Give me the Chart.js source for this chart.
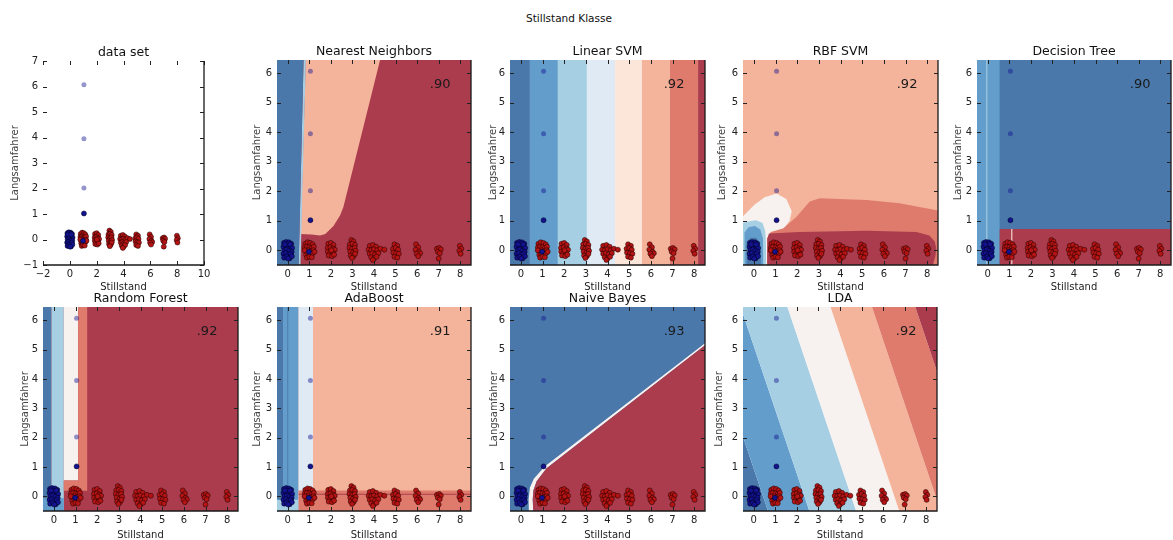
<!DOCTYPE html>
<html>
<head>
<meta charset="utf-8">
<script src="https://cdn.jsdelivr.net/npm/chart.js@4/dist/chart.umd.min.js"></script>
<style>
  html, body { margin: 0; padding: 0; background: #fff; overflow: hidden; width: 1173px; height: 540px; }
  #wrap { position: relative; width: 1173px; height: 540px; }
  #wrap canvas { position: absolute; }
  #sup { position: absolute; top: 12px; left: 0; width: 1138px; text-align: center;
         font: 10.5px 'DejaVu Sans', sans-serif; color: #111; line-height: 12px; }
</style>
</head>
<body>
<div id="wrap"><div id="sup">Stillstand Klasse</div></div>
<script>
// ---------------- data ----------------
const panelTitles = ['data set', 'Nearest Neighbors', 'Linear SVM', 'RBF SVM', 'Decision Tree',
                     'Random Forest', 'AdaBoost', 'Naive Bayes', 'LDA'];
const scores = [null, '.90', '.92', '.92', '.90', '.92', '.91', '.93', '.92'];

const clfXTicks = [0, 1, 2, 3, 4, 5, 6, 7, 8];
const clfYTicks = [0, 1, 2, 3, 4, 5, 6];
const rawXTicks = [-2, 0, 2, 4, 6, 8, 10];
const rawXLabels = ['\u22122', '0', '2', '4', '6', '8', '10'];
const rawYTicks = [-1, 0, 1, 2, 3, 4, 5, 6, 7];
const rawYLabels = ['\u22121', '0', '1', '2', '3', '4', '5', '6', '7'];

// class 0 (blue) training points: cluster at Stillstand 0 plus a few at 1
const blueTrain = [
  [-0.18, 0.25], [-0.08, 0.28], [0.05, 0.27], [0.16, 0.22], [-0.2, 0.12], [-0.07, 0.15], [0.09, 0.12], [0.2, 0.08],
  [-0.16, 0.0], [-0.04, 0.03], [0.07, -0.02], [0.18, -0.05], [-0.2, -0.12], [-0.09, -0.1], [0.03, -0.15], [0.14, -0.12],
  [-0.17, -0.25], [-0.05, -0.22], [0.09, -0.27], [0.19, -0.2], [0.0, 0.2], [-0.13, 0.2], [0.11, 0.2], [0.02, -0.28],
  [0.98, -0.05], [1.05, 1.02]
];
// class 0 test points
const blueTest = [[1.05, 2.02], [1.05, 3.95], [1.05, 6.07]];
// class 1 (red) points, one cluster per Stillstand value 1..8
const redTrain = [
  [0.81, 0.22], [0.92, 0.27], [1.04, 0.25], [1.15, 0.2], [0.79, 0.1], [0.89, 0.12], [1.0, 0.1], [1.11, 0.08], [1.21, 0.12],
  [0.83, -0.02], [0.96, 0.0], [1.07, -0.03], [1.19, 0.0], [0.85, -0.15], [0.95, -0.12], [1.06, -0.14], [1.16, -0.1],
  [0.89, -0.25], [1.0, -0.22], [1.11, -0.24], [0.78, 0.0], [1.24, -0.05],
  [1.88, 0.22], [2.0, 0.25], [2.12, 0.18], [1.85, 0.08], [1.98, 0.1], [2.1, 0.06], [2.18, 0.02], [1.86, -0.05],
  [1.97, -0.08], [2.1, -0.1], [1.9, -0.18], [2.05, -0.2], [2.15, -0.15], [2.02, 0.0],
  [2.95, 0.35], [3.05, 0.3], [2.88, 0.2], [3.0, 0.22], [3.12, 0.18], [2.86, 0.08], [2.98, 0.05], [3.1, 0.08],
  [2.9, -0.05], [3.03, -0.08], [3.15, -0.02], [2.92, -0.18], [3.05, -0.2], [3.12, -0.12], [2.98, -0.26],
  [3.8, 0.15], [3.95, 0.18], [4.1, 0.12], [3.75, 0.02], [3.87, 0.0], [4.0, 0.03], [4.15, 0.0], [4.3, 0.05], [4.48, 0.02],
  [3.8, -0.12], [3.92, -0.1], [4.05, -0.14], [4.2, -0.1], [3.87, -0.24], [4.0, -0.28], [4.12, -0.22], [3.95, -0.33],
  [4.95, 0.2], [5.08, 0.15], [4.88, 0.05], [5.0, 0.08], [5.12, 0.02], [4.9, -0.08], [5.03, -0.1], [5.15, -0.12],
  [4.95, -0.22], [5.08, -0.25],
  [5.95, 0.2], [6.05, 0.1], [5.93, 0.02], [6.08, -0.05], [6.14, -0.1], [5.98, -0.12], [6.05, -0.2],
  [6.92, 0.05], [7.02, 0.08], [7.1, 0.03], [6.96, -0.05], [7.05, -0.1], [7.0, -0.28],
  [7.98, 0.15], [8.05, 0.05], [7.96, -0.02], [8.02, -0.12]
];

// decision regions: [contour level, polygon], listed from bottom layer to top layer
const regionsNN = [
  [8, [[-1, -1], [9, -1], [9, 7], [-1, 7]]],
  [6, [[0.6, 0.55], [0.86, 7], [4.47, 7], [2.58, 1.47], [2.43, 1.19], [2.12, 0.82], [1.74, 0.55], [1.5, 0.5], [1.1, 0.53]]],
  [2, [[0.49, -1], [0.57, -1], [0.86, 7], [0.75, 7]]],
  [0, [[-1, -1], [0.49, -1], [0.75, 7], [-1, 7]]]
];
const svmEdges = [-1, 0.42, 1.71, 3.05, 4.35, 5.59, 6.88, 8.18, 9];
const svmLevels = [0, 1, 2, 3, 5, 6, 7, 8];
const regionsRBF = [
  [6, [[-1, -1], [9, -1], [9, 7], [-1, 7]]],
  [4, [[-1, 1.15], [-0.5, 1.15], [0.04, 1.55], [0.5, 1.8], [1.05, 1.92], [1.5, 1.74], [1.75, 1.32], [1.65, 1.0],
       [1.4, 0.75], [0.9, 0.62], [0.68, 0.4], [0.62, -1], [-1, -1]]],
  [7, [[0.6, -1], [0.62, 0.4], [0.78, 0.62], [1.35, 0.74], [1.96, 1.13], [2.58, 1.65], [3.04, 1.76],
       [5.2, 1.7], [6.73, 1.59], [9, 1.28], [9, -1]]],
  [8, [[0.62, -1], [0.62, 0.4], [0.7, 0.57], [2.1, 0.62], [5.2, 0.66], [7.5, 0.62], [8.1, 0.5], [8.35, 0.3],
       [8.42, 0.05], [8.38, -0.2], [8.3, -0.4], [8.2, -1]]],
  [2, [[-1, -1], [-1, 0.85], [-0.3, 0.97], [0.1, 1.02], [0.4, 0.92], [0.53, 0.65], [0.56, 0.2], [0.57, -1]]],
  [1, [[-0.43, -1], [-0.43, 0.6], [-0.25, 0.78], [0.05, 0.82], [0.3, 0.7], [0.42, 0.4], [0.44, -1]]],
  [0, [[-0.33, -1], [-0.33, 0.3], [-0.15, 0.42], [0.1, 0.42], [0.25, 0.3], [0.32, 0], [0.32, -1]]]
];
const regionsDT = [
  [0, [[-1, -1], [9, -1], [9, 7], [-1, 7]]],
  [1, [[-1, -1], [0.55, -1], [0.55, 7], [-1, 7]]],
  [2, [[-0.07, -1], [-0.02, -1], [-0.02, 7], [-0.07, 7]]],
  [8, [[0.55, -1], [9, -1], [9, 0.72], [0.55, 0.72]]],
  [5, [[1.09, -1], [1.14, -1], [1.14, 0.72], [1.09, 0.72]]]
];
const regionsRF = [
  [8, [[-1, -1], [9, -1], [9, 7], [-1, 7]]],
  [0, [[-1, -1], [-0.11, -1], [-0.11, 7], [-1, 7]]],
  [2, [[-0.11, -1], [0.46, -1], [0.46, 7], [-0.11, 7]]],
  [1, [[-1, -1], [0.46, -1], [0.46, -0.06], [-1, -0.06]]],
  [4, [[0.46, 0.54], [1.12, 0.54], [1.12, 7], [0.46, 7]]],
  [7, [[0.46, 0.19], [1.12, 0.19], [1.12, 0.54], [0.46, 0.54]]],
  [7, [[1.12, 0.19], [1.54, 0.19], [1.54, 7], [1.12, 7]]]
];
const regionsAda = [
  [6, [[-1, -1], [9, -1], [9, 7], [-1, 7]]],
  [0, [[-1, -1], [-0.22, -1], [-0.22, 7], [-1, 7]]],
  [1, [[-0.22, -1], [0.5, -1], [0.5, 7], [-0.22, 7]]],
  [0, [[-0.02, -1], [0.02, -1], [0.02, 7], [-0.02, 7]]],
  [3, [[0.5, -1], [1.17, -1], [1.17, 7], [0.5, 7]]],
  [2, [[-1, -1], [0.5, -1], [0.5, -0.12], [-1, -0.12]]],
  [7, [[0.5, -1], [9, -1], [9, 0.2], [0.5, 0.2]]],
  [8, [[0.5, 0.05], [9, 0.05], [9, 0.09], [0.5, 0.09]]]
];
const regionsNB = [
  [0, [[-1, -1], [9, -1], [9, 7], [-1, 7]]],
  [4, [[0.38, -1], [0.36, -0.1], [0.42, 0.3], [0.6, 0.6], [1.1, 1.02], [9, 5.5], [9, 5.43], [1.19, 0.96],
       [0.73, 0.51], [0.58, 0.2], [0.55, -0.1], [0.6, -1]]],
  [8, [[0.6, -1], [0.55, -0.1], [0.58, 0.2], [0.73, 0.51], [1.19, 0.96], [9, 5.43], [9, -1]]]
];
// LDA boundaries: x where each level line meets Langsamfahrer = -1 and = 7
const ldaBottom = [-5, 0.89, 2.81, 4.98, 6.98, 8.9, 10.91, 15];
const ldaTop = [-5, -2.78, -0.86, 1.31, 3.31, 5.23, 7.24, 15];
const ldaLevels = [0, 1, 2, 4, 6, 7, 8];

// ---------------- styling ----------------
const levelColors = ['#4a78ab', '#629dcc', '#a7cfe4', '#dfeaf4', '#f7f1ef', '#fce5d9', '#f4b49b', '#df7b6d', '#aa3c4d'];
const FONT = "'DejaVu Sans', sans-serif";
Chart.defaults.font.family = FONT;

const regionsSVM = svmLevels.map((lv, i) => [lv, [[svmEdges[i], -1], [svmEdges[i + 1], -1], [svmEdges[i + 1], 7], [svmEdges[i], 7]]]);
const regionsLDA = ldaLevels.map((lv, i) => [lv, [[ldaBottom[i], -1], [ldaBottom[i + 1], -1], [ldaTop[i + 1], 7], [ldaTop[i], 7]]]);
const panelRegions = [null, regionsNN, regionsSVM, regionsRBF, regionsDT, regionsRF, regionsAda, regionsNB, regionsLDA];

// axes box of each panel on the page (left, top, width, height) and room for the axis texts
const boxes = [
  {L: 43, T: 61, W: 161, H: 204, yW: 34, xH: 28},
  {L: 277, T: 60, W: 194, H: 205, yW: 26, xH: 28},
  {L: 510, T: 60, W: 195, H: 205, yW: 23, xH: 28},
  {L: 743, T: 60, W: 195, H: 205, yW: 27, xH: 28},
  {L: 977, T: 60, W: 194, H: 205, yW: 25, xH: 28},
  {L: 43, T: 307, W: 195, H: 204, yW: 24, xH: 30},
  {L: 277, T: 307, W: 194, H: 204, yW: 26, xH: 30},
  {L: 510, T: 307, W: 195, H: 204, yW: 22, xH: 30},
  {L: 743, T: 307, W: 194, H: 204, yW: 30, xH: 30}
];
const TITLE_H = 18;   // 2 + 15 + 1
const PAD_R = 10;

const toXY = arr => arr.map(([x, y]) => ({x, y}));

// inward tick marks, right/bottom spines and the score label
const framePlugin = {
  id: 'frame',
  afterDraw(chart, args, opts) {
    const {ctx, chartArea: a, scales: {x, y}} = chart;
    ctx.save();
    ctx.strokeStyle = '#222';
    ctx.lineWidth = 1;
    ctx.beginPath();
    x.ticks.forEach(t => {
      const px = Math.round(x.getPixelForValue(t.value)) + 0.5;
      ctx.moveTo(px, a.bottom); ctx.lineTo(px, a.bottom - 4);
      ctx.moveTo(px, a.top); ctx.lineTo(px, a.top + 4);
    });
    y.ticks.forEach(t => {
      const py = Math.round(y.getPixelForValue(t.value)) + 0.5;
      ctx.moveTo(a.left, py); ctx.lineTo(a.left + 4, py);
      ctx.moveTo(a.right, py); ctx.lineTo(a.right - 4, py);
    });
    ctx.stroke();
    ctx.strokeStyle = '#1a1a1a';
    ctx.lineWidth = 1.3;
    ctx.beginPath();
    ctx.moveTo(a.left, a.bottom); ctx.lineTo(a.right, a.bottom); ctx.lineTo(a.right, a.top);
    ctx.stroke();
    if (opts.score) {
      ctx.font = '13px ' + FONT;
      ctx.fillStyle = '#1a1a1a';
      ctx.textAlign = 'right';
      ctx.textBaseline = 'middle';
      ctx.fillText(opts.score, x.getPixelForValue(7.55), y.getPixelForValue(5.6));
    }
    ctx.restore();
  }
};
Chart.register(framePlugin);

function makePanel(i) {
  const b = boxes[i];
  const raw = i === 0;
  const canvas = document.createElement('canvas');
  const cw = b.yW + b.W + PAD_R;
  const ch = TITLE_H + b.H + b.xH;
  canvas.width = cw; canvas.height = ch;
  canvas.style.width = cw + 'px'; canvas.style.height = ch + 'px';
  canvas.style.left = (b.L - b.yW) + 'px';
  canvas.style.top = (b.T - TITLE_H) + 'px';
  document.getElementById('wrap').appendChild(canvas);

  const datasets = [];
  const regions = panelRegions[i] || [];
  regions.forEach(([lv, poly], k) => {
    datasets.push({
      type: 'line', data: toXY(poly), fill: 'shape', backgroundColor: levelColors[lv],
      borderWidth: 0, borderColor: 'rgba(0,0,0,0)', pointRadius: 0, pointHitRadius: 0,
      tension: 0, order: 1000 - k
    });
  });
  const r = 2.5;
  datasets.push({data: toXY(redTrain), backgroundColor: '#b51414', borderColor: '#1a0000', borderWidth: 0.5, pointRadius: r, order: 3});
  datasets.push({data: toXY(blueTrain), backgroundColor: '#13138f', borderColor: '#00001a', borderWidth: 0.5, pointRadius: r, order: 2});
  datasets.push({data: toXY(blueTest), backgroundColor: 'rgba(19,19,143,0.45)', borderColor: 'rgba(0,0,0,0)', borderWidth: 0, pointRadius: r, order: 1});

  const xT = raw ? rawXTicks : clfXTicks;
  const yT = raw ? rawYTicks : clfYTicks;
  const xL = raw ? rawXLabels : clfXTicks.map(String);
  const yL = raw ? rawYLabels : clfYTicks.map(String);

  new Chart(canvas, {
    type: 'scatter',
    data: {datasets},
    options: {
      responsive: false,
      animation: false,
      events: [],
      layout: {padding: {left: 0, top: 0, right: PAD_R, bottom: 0}},
      plugins: {
        legend: {display: false},
        tooltip: {enabled: false},
        title: {display: true, text: panelTitles[i], fullSize: false, color: '#111',
                font: {size: 12.5, weight: 'normal'}, padding: {top: 2, bottom: 1}},
        frame: {score: scores[i]}
      },
      scales: {
        x: {
          type: 'linear',
          min: raw ? -2 : -0.5, max: raw ? 10 : 8.5,
          afterBuildTicks: s => { s.ticks = xT.map(v => ({value: v})); },
          afterFit: s => { s.height = b.xH; },
          grid: {display: false, drawTicks: false},
          border: {display: false},
          ticks: {padding: 3, color: '#222', font: {size: 10}, autoSkip: false, maxRotation: 0,
                  callback: (v, idx) => xL[idx]},
          title: {display: true, text: 'Stillstand', color: '#222', font: {size: 10}, padding: 0}
        },
        y: {
          type: 'linear',
          min: raw ? -1 : -0.5, max: raw ? 7 : 6.45,
          afterBuildTicks: s => { s.ticks = yT.map(v => ({value: v})); },
          afterFit: s => { s.width = b.yW; },
          grid: {display: false, drawTicks: false},
          border: {display: false},
          ticks: {padding: 5, color: '#222', font: {size: 10}, autoSkip: false,
                  callback: (v, idx) => yL[idx]},
          title: {display: true, text: 'Langsamfahrer', color: '#444', font: {size: 10}, padding: 0}
        }
      }
    }
  });
}

for (let i = 0; i < panelTitles.length; i++) makePanel(i);
</script>
</body>
</html>
